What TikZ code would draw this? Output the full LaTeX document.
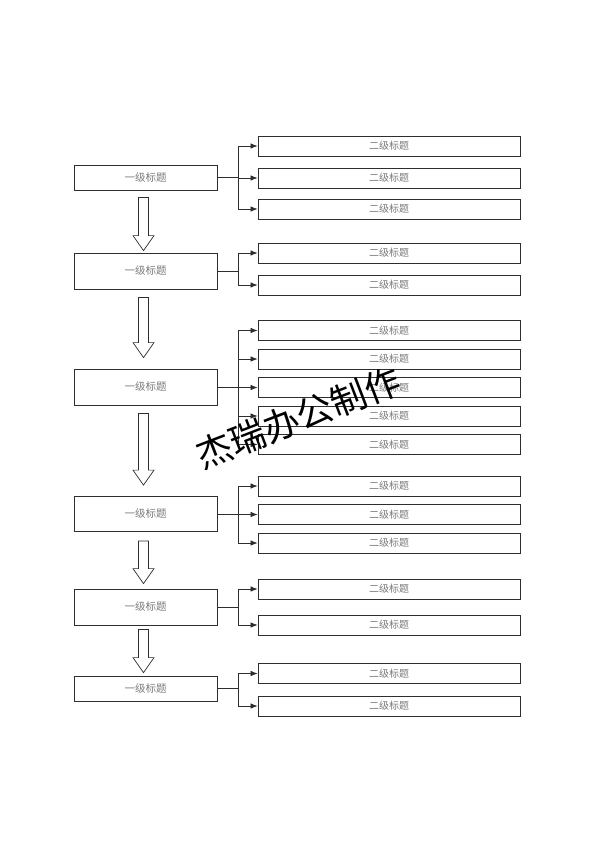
\documentclass[tikz,border=0pt]{standalone}
\usepackage{fontspec}
\newfontfamily\cjk{Noto Sans CJK SC}
\usetikzlibrary{arrows.meta,positioning,calc}
\definecolor{boxline}{HTML}{2E2E2E}
\definecolor{labelgrey}{HTML}{7A7A7A}
\tikzset{
  lvlone/.style     = {draw=boxline, line width=0.8pt, minimum width=143pt,
                       inner sep=0pt, font=\cjk\fontsize{10.5}{11}\selectfont, text=labelgrey},
  lvltwo/.style     = {draw=boxline, line width=0.8pt, minimum width=262pt, minimum height=20pt,
                       inner sep=0pt, font=\cjk\fontsize{10}{11}\selectfont, text=labelgrey},
  branch/.style     = {-{Latex[length=7pt,width=5.5pt]}, line width=0.7pt, draw=boxline},
  fat/.style        = {draw=boxline, line width=0.7pt, fill=white, to path={
                       ($(\tikztostart)+(-5,0)$) -- ($(\tikztostart)+(5,0)$)
                       -- ($(\tikztostart |- \tikztotarget)+(5,-15)$)
                       -- ($(\tikztostart |- \tikztotarget)+(10.5,-15)$)
                       -- (\tikztostart |- \tikztotarget)
                       -- ($(\tikztostart |- \tikztotarget)+(-10.5,-15)$)
                       -- ($(\tikztostart |- \tikztotarget)+(-5,-15)$) -- cycle}},
  watermark/.style  = {font=\cjk\fontsize{36}{36}\selectfont, text=black, rotate=21, inner sep=0pt},
}

\begin{document}
\begin{tikzpicture}[x=1pt, y=-1pt]
  \useasboundingbox (0,0) rectangle (594,841);
  % first level
  \node[lvlone, minimum height=25pt] (l1) at (145.5,177.5) {一级标题};
  \node[lvlone, minimum height=36pt] (l2) at (145.5,271) {一级标题};
  \node[lvlone, minimum height=36pt] (l3) at (145.5,387) {一级标题};
  \node[lvlone, minimum height=35pt] (l4) at (145.5,514) {一级标题};
  \node[lvlone, minimum height=36pt] (l5) at (145.5,607) {一级标题};
  \node[lvlone, minimum height=25pt] (l6) at (145.5,688.5) {一级标题};
  % second level
  \node[lvltwo] (a1) at (389,146) {二级标题};
  \node[lvltwo] (a2) at (389,178) {二级标题};
  \node[lvltwo] (a3) at (389,209) {二级标题};
  \node[lvltwo] (b1) at (389,253) {二级标题};
  \node[lvltwo] (b2) at (389,285) {二级标题};
  \node[lvltwo] (c1) at (389,330.5) {二级标题};
  \node[lvltwo] (c2) at (389,359) {二级标题};
  \node[lvltwo] (c3) at (389,387.5) {二级标题};
  \node[lvltwo] (c4) at (389,416) {二级标题};
  \node[lvltwo] (c5) at (389,444.5) {二级标题};
  \node[lvltwo] (e1) at (389,486) {二级标题};
  \node[lvltwo] (e2) at (389,514.5) {二级标题};
  \node[lvltwo] (e3) at (389,543) {二级标题};
  \node[lvltwo] (f1) at (389,589) {二级标题};
  \node[lvltwo] (f2) at (389,625) {二级标题};
  \node[lvltwo] (g1) at (389,673.5) {二级标题};
  \node[lvltwo] (g2) at (389,706) {二级标题};
  % branches
  \draw[branch] (l1.east) -- ++(21,0) |- (a1.west);
  \draw[branch] (l1.east) -- ++(21,0) |- (a2.west);
  \draw[branch] (l1.east) -- ++(21,0) |- (a3.west);
  \draw[branch] (l2.east) -- ++(21,0) |- (b1.west);
  \draw[branch] (l2.east) -- ++(21,0) |- (b2.west);
  \draw[branch] (l3.east) -- ++(21,0) |- (c1.west);
  \draw[branch] (l3.east) -- ++(21,0) |- (c2.west);
  \draw[branch] (l3.east) -- ++(21,0) |- (c3.west);
  \draw[branch] (l3.east) -- ++(21,0) |- (c4.west);
  \draw[branch] (l3.east) -- ++(21,0) |- (c5.west);
  \draw[branch] (l4.east) -- ++(21,0) |- (e1.west);
  \draw[branch] (l4.east) -- ++(21,0) |- (e2.west);
  \draw[branch] (l4.east) -- ++(21,0) |- (e3.west);
  \draw[branch] (l5.east) -- ++(21,0) |- (f1.west);
  \draw[branch] (l5.east) -- ++(21,0) |- (f2.west);
  \draw[branch] (l6.east) -- ++(21,0) |- (g1.west);
  \draw[branch] (l6.east) -- ++(21,0) |- (g2.west);
  % hollow arrows between first level boxes
  \coordinate (d1s) at ($(l1.south)+(-2,7)$);
  \coordinate (d1e) at ($(l2.north)+(-2,-2)$);
  \coordinate (d2s) at ($(l2.south)+(-2,8)$);
  \coordinate (d2e) at ($(l3.north)+(-2,-11)$);
  \coordinate (d3s) at ($(l3.south)+(-2,8)$);
  \coordinate (d3e) at ($(l4.north)+(-2,-11)$);
  \coordinate (d4s) at ($(l4.south)+(-2,9)$);
  \coordinate (d4e) at ($(l5.north)+(-2,-5)$);
  \coordinate (d5s) at ($(l5.south)+(-2,4)$);
  \coordinate (d5e) at ($(l6.north)+(-2,-3)$);
  \draw[fat] (d1s) to (d1e);
  \draw[fat] (d2s) to (d2e);
  \draw[fat] (d3s) to (d3e);
  \draw[fat] (d4s) to (d4e);
  \draw[fat] (d5s) to (d5e);
  % watermark
  \node[watermark] (wm) at (298,418) {杰瑞办公制作};
\end{tikzpicture}
\end{document}
